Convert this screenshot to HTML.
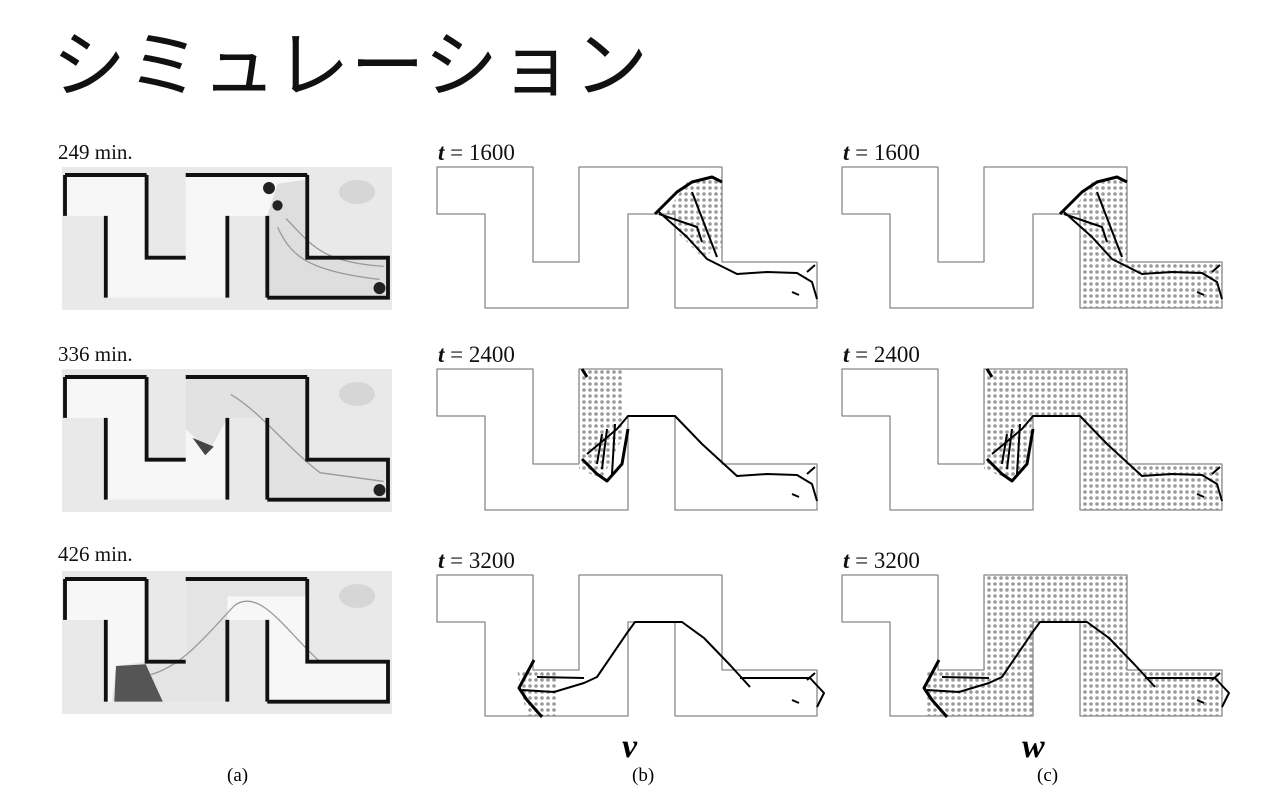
<!DOCTYPE html>
<html><head><meta charset="utf-8"><style>
body{margin:0;width:1280px;height:800px;background:#fff;position:relative;overflow:hidden;font-family:"Liberation Serif",serif}
.t{position:absolute;font-family:"Liberation Sans","Noto Sans CJK JP",sans-serif;font-size:74px;left:52px;top:6px;font-weight:400;letter-spacing:1px;color:#111}
.l{position:absolute;font-size:21px;color:#111}
.tl{position:absolute;font-size:23px;color:#111}
.tl i{font-weight:bold}
.vw{position:absolute;font-size:34px;font-style:italic;font-weight:bold}
.c{position:absolute;font-size:19px}
</style></head><body>
<div class="t">シミュレーション</div>
<div class="l" style="left:58px;top:140px">249 min.</div>
<div class="l" style="left:58px;top:342px">336 min.</div>
<div class="l" style="left:58px;top:542px">426 min.</div>
<div class="tl" style="left:438px;top:140px"><i>t</i> = 1600</div>
<div class="tl" style="left:438px;top:342px"><i>t</i> = 2400</div>
<div class="tl" style="left:438px;top:548px"><i>t</i> = 3200</div>
<div class="tl" style="left:843px;top:140px"><i>t</i> = 1600</div>
<div class="tl" style="left:843px;top:342px"><i>t</i> = 2400</div>
<div class="tl" style="left:843px;top:548px"><i>t</i> = 3200</div>
<div class="vw" style="left:622px;top:728px">v</div>
<div class="vw" style="left:1022px;top:728px">w</div>
<div class="c" style="left:227px;top:765px">(a)</div>
<div class="c" style="left:632px;top:765px">(b)</div>
<div class="c" style="left:1037px;top:765px">(c)</div>
<svg width="1280" height="800" style="position:absolute;left:0;top:0">
<defs>
<pattern id="d" width="6" height="6" patternUnits="userSpaceOnUse"><circle cx="3" cy="3" r="1.8" fill="#9a9a9a"/></pattern>
<path id="mz" d="M0,0 H96 V95 H142 V0 H285 V95 H380 V141 H238 V47 H191 V141 H48 V47 H0 Z"/>
<path id="wl" d="M0,0 H96 M0,0 V47 M48,47 V141 M96,0 V95 H142 M142,0 H285 M191,47 V141 M238,47 V141 M285,0 V95 H380 V141 H238"/>
<clipPath id="mc"><use href="#mz"/></clipPath>
</defs>
<!-- photos -->
<g transform="translate(62,167)">
<rect width="330" height="143" fill="#e9e9e9"/>
<g transform="translate(3,8) scale(0.85,0.87)"><use href="#mz" fill="#f7f7f7"/>
<path d="M238,47 L250,10 L285,5 L285,95 L380,95 L380,141 L238,141Z" fill="#dedede"/>
<path d="M250,60 C265,90 280,110 370,120 M260,50 C290,80 300,100 375,105" stroke="#999" stroke-width="1.5" fill="none"/>
<use href="#wl" fill="none" stroke="#111" stroke-width="4.5"/>
<circle cx="370" cy="130" r="7" fill="#222"/><circle cx="240" cy="15" r="7" fill="#222"/><circle cx="250" cy="35" r="6" fill="#222"/></g>
<ellipse cx="295" cy="25" rx="18" ry="12" fill="#d6d6d6"/>
</g>
<g transform="translate(62,369)">
<rect width="330" height="143" fill="#e9e9e9"/>
<g transform="translate(3,8) scale(0.85,0.87)"><use href="#mz" fill="#f7f7f7"/>
<path d="M142,0 L285,0 L285,95 L380,95 L380,141 L238,141 L238,47 L191,47 L170,85 L142,60Z" fill="#e2e2e2"/>
<path d="M150,70 L165,90 L175,80 Z" fill="#444"/>
<path d="M195,20 C230,40 260,80 300,110 L375,120" stroke="#999" stroke-width="1.5" fill="none"/>
<use href="#wl" fill="none" stroke="#111" stroke-width="4.5"/>
<circle cx="370" cy="130" r="7" fill="#222"/></g>
<ellipse cx="295" cy="25" rx="18" ry="12" fill="#d6d6d6"/>
</g>
<g transform="translate(62,571)">
<rect width="330" height="143" fill="#e9e9e9"/>
<g transform="translate(3,8) scale(0.85,0.87)"><use href="#mz" fill="#f7f7f7"/>
<path d="M60,100 L96,95 L142,95 L142,0 L285,0 L285,20 L191,20 L191,141 L55,141Z" fill="#e4e4e4"/>
<path d="M60,100 L95,98 L115,141 L58,141Z" fill="#555"/>
<path d="M100,110 C140,100 170,60 200,30 C230,10 260,60 300,95" stroke="#999" stroke-width="1.5" fill="none"/>
<use href="#wl" fill="none" stroke="#111" stroke-width="4.5"/></g>
<ellipse cx="295" cy="25" rx="18" ry="12" fill="#d6d6d6"/>
</g>
<!-- b panels -->
<g transform="translate(437,167)" stroke-linejoin="round" fill="none">
<g clip-path="url(#mc)"><path d="M230,45 L250,15 L285,10 L285,80 L265,90 L245,70 L232,60Z" fill="url(#d)"/></g>
<use href="#mz" stroke="#888" stroke-width="1.3"/>
<path d="M218,47 L240,25 L255,15 L275,10 L285,15" stroke="#000" stroke-width="3"/>
<path d="M222,45 L250,70 L270,92 L300,107 L330,105 L360,106 L375,115 L380,132 M222,47 L260,60 L265,75 M255,25 L280,90 M370,105 L378,98 M355,125 L362,128" stroke="#000" stroke-width="2"/>
</g>
<g transform="translate(437,369)" stroke-linejoin="round" fill="none">
<g clip-path="url(#mc)"><path d="M142,0 L185,0 L185,70 L165,110 L142,100Z" fill="url(#d)"/></g>
<use href="#mz" stroke="#888" stroke-width="1.3"/>
<path d="M145,0 L150,8 M145,90 L160,105 L170,112 L185,95 L191,60" stroke="#000" stroke-width="3"/>
<path d="M150,85 L180,60 L191,47 L238,47 L265,75 L300,107 L330,105 L360,106 L375,115 L380,132 M165,100 L170,60 M175,105 L178,55 M160,95 L165,65 M370,105 L378,98 M355,125 L362,128" stroke="#000" stroke-width="2"/>
</g>
<g transform="translate(437,575)" stroke-linejoin="round" fill="none">
<g clip-path="url(#mc)"><path d="M80,95 L120,95 L120,141 L90,141Z" fill="url(#d)"/></g>
<use href="#mz" stroke="#888" stroke-width="1.3"/>
<path d="M97,85 L82,113 L90,125 L105,142" stroke="#000" stroke-width="3"/>
<path d="M85,115 L117,117 L147,108 L160,102 L190,58 L198,47 L245,47 L267,63 L293,90 L313,112 M100,102 L147,103 M303,103 L373,103 L387,118 L380,132 M370,105 L378,98 M355,125 L362,128" stroke="#000" stroke-width="2"/>
</g>
<!-- c panels -->
<g transform="translate(842,167)" stroke-linejoin="round" fill="none">
<g clip-path="url(#mc)"><path d="M230,45 L250,15 L285,10 L285,95 L380,95 L380,141 L238,141 L238,47Z" fill="url(#d)"/></g>
<use href="#mz" stroke="#888" stroke-width="1.3"/>
<path d="M218,47 L240,25 L255,15 L275,10 L285,15" stroke="#000" stroke-width="3"/>
<path d="M222,45 L250,70 L270,92 L300,107 L330,105 L360,106 L375,115 L380,132 M222,47 L260,60 L265,75 M255,25 L280,90 M370,105 L378,98 M355,125 L362,128" stroke="#000" stroke-width="2"/>
</g>
<g transform="translate(842,369)" stroke-linejoin="round" fill="none">
<g clip-path="url(#mc)"><path d="M142,0 L285,0 L285,95 L380,95 L380,141 L238,141 L238,47 L191,47 L185,90 L170,112 L142,100Z" fill="url(#d)"/></g>
<use href="#mz" stroke="#888" stroke-width="1.3"/>
<path d="M145,0 L150,8 M145,90 L160,105 L170,112 L185,95 L191,60" stroke="#000" stroke-width="3"/>
<path d="M150,85 L180,60 L191,47 L238,47 L265,75 L300,107 L330,105 L360,106 L375,115 L380,132 M165,100 L170,60 M175,105 L178,55 M160,95 L165,65 M370,105 L378,98 M355,125 L362,128" stroke="#000" stroke-width="2"/>
</g>
<g transform="translate(842,575)" stroke-linejoin="round" fill="none">
<g clip-path="url(#mc)"><path d="M85,95 L142,95 L142,0 L285,0 L285,95 L380,95 L380,141 L238,141 L238,47 L191,47 L191,141 L85,141Z" fill="url(#d)"/></g>
<use href="#mz" stroke="#888" stroke-width="1.3"/>
<path d="M97,85 L82,113 L90,125 L105,142" stroke="#000" stroke-width="3"/>
<path d="M85,115 L117,117 L147,108 L160,102 L190,58 L198,47 L245,47 L267,63 L293,90 L313,112 M100,102 L147,103 M303,103 L373,103 L387,118 L380,132 M370,105 L378,98 M355,125 L362,128" stroke="#000" stroke-width="2"/>
</g>
</svg>
</body></html>
